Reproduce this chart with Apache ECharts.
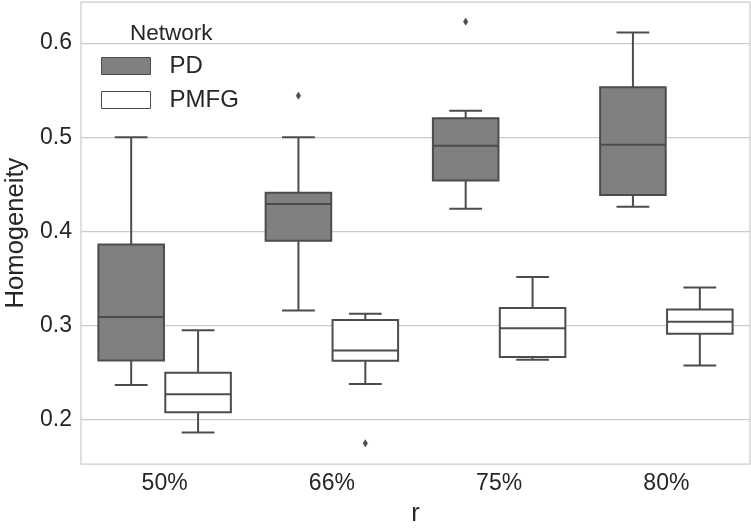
<!DOCTYPE html>
<html>
<head>
<meta charset="utf-8">
<script src="https://cdn.jsdelivr.net/npm/echarts@6/dist/echarts.min.js"></script>
<style>
  html, body { margin: 0; padding: 0; background: #ffffff; }
  #chart { width: 751px; height: 529px; }
</style>
</head>
<body>
<div id="chart"></div>
<script>
// Category labels along the x axis (r)
const categories = ['50%', '66%', '75%', '80%'];

// Box statistics per category: [min whisker, Q1, median, Q3, max whisker]
const pdStats = [
  [0.237, 0.263, 0.309, 0.386, 0.500],
  [0.316, 0.390, 0.429, 0.441, 0.500],
  [0.424, 0.454, 0.491, 0.520, 0.528],
  [0.426, 0.4386, 0.492, 0.553, 0.611]
];
const pmfgStats = [
  [0.1865, 0.208, 0.227, 0.250, 0.295],
  [0.238, 0.2626, 0.2736, 0.306, 0.3125],
  [0.2637, 0.2666, 0.297, 0.3186, 0.3515],
  [0.2576, 0.2913, 0.304, 0.317, 0.3405]
];

// Outliers: [category index, value]
const pdOutliers = [[1, 0.544], [2, 0.6226]];
const pmfgOutliers = [[1, 0.175]];

// Y tick labels
const yTicks = [0.2, 0.3, 0.4, 0.5, 0.6];

const seriesNames = ['PD', 'PMFG'];
const fillColors = ['#808080', '#ffffff'];
const lineColor = '#4c4c4c';
const textColor = '#262626';
const fontFamily = '"Liberation Sans", Arial, sans-serif';

function hueOffset(hue, band) {
  return (hue === 0 ? -0.2 : 0.2) * band;
}

function makeBoxRenderer(hue) {
  return function (params, api) {
    const cat = api.value(0);
    const band = api.size([1, 0])[0];
    const boxW = band * 0.4 * 0.98;
    const capW = boxW / 2;
    const cx = api.coord([cat, api.value(3)])[0] + hueOffset(hue, band);
    const y = (i) => api.coord([cat, api.value(i)])[1];
    const yMin = y(1), yQ1 = y(2), yMed = y(3), yQ3 = y(4), yMax = y(5);
    const stroke = { stroke: lineColor, lineWidth: 2, fill: null };
    return {
      type: 'group',
      children: [
        { type: 'line', shape: { x1: cx, y1: yQ1, x2: cx, y2: yMin }, style: stroke },
        { type: 'line', shape: { x1: cx, y1: yQ3, x2: cx, y2: yMax }, style: stroke },
        { type: 'line', shape: { x1: cx - capW / 2, y1: yMin, x2: cx + capW / 2, y2: yMin }, style: stroke },
        { type: 'line', shape: { x1: cx - capW / 2, y1: yMax, x2: cx + capW / 2, y2: yMax }, style: stroke },
        {
          type: 'rect',
          shape: { x: cx - boxW / 2, y: yQ3, width: boxW, height: yQ1 - yQ3 },
          style: { fill: fillColors[hue], stroke: lineColor, lineWidth: 2 }
        },
        { type: 'line', shape: { x1: cx - boxW / 2, y1: yMed, x2: cx + boxW / 2, y2: yMed }, style: stroke }
      ]
    };
  };
}

function makeOutlierRenderer(hue) {
  return function (params, api) {
    const cat = api.value(0);
    const band = api.size([1, 0])[0];
    const p = api.coord([cat, api.value(1)]);
    const cx = p[0] + hueOffset(hue, band);
    const cy = p[1];
    const hw = 2.3, hh = 3.6;
    return {
      type: 'polygon',
      shape: { points: [[cx, cy - hh], [cx + hw, cy], [cx, cy + hh], [cx - hw, cy]] },
      style: { fill: lineColor, stroke: lineColor, lineWidth: 0.5 }
    };
  };
}

const toBoxData = (stats) => stats.map((s, i) => [i].concat(s));

const chart = echarts.init(document.getElementById('chart'), null, { renderer: 'canvas' });

chart.setOption({
  animation: false,
  backgroundColor: '#ffffff',
  title: {
    text: 'Network',
    left: 130,
    top: 22,
    padding: 0,
    textStyle: { fontFamily, fontSize: 22.5, fontWeight: 'normal', color: textColor }
  },
  legend: {
    orient: 'vertical',
    left: 101,
    top: 54,
    padding: 0,
    itemWidth: 49,
    itemHeight: 17,
    itemGap: 10,
    icon: 'rect',
    textStyle: { fontFamily, fontSize: 24, color: textColor, padding: [0, 0, 0, 14] },
    data: [
      { name: 'PD', itemStyle: { color: fillColors[0], borderColor: lineColor, borderWidth: 1 } },
      { name: 'PMFG', itemStyle: { color: fillColors[1], borderColor: lineColor, borderWidth: 1 } }
    ]
  },
  grid: {
    left: 81,
    right: 1,
    top: 2,
    bottom: 65,
    containLabel: false,
    outerBoundsMode: 'none',
    show: true,
    borderColor: '#cccccc',
    borderWidth: 1.25,
    backgroundColor: '#ffffff'
  },
  xAxis: {
    type: 'category',
    data: categories,
    boundaryGap: true,
    name: 'r',
    nameLocation: 'middle',
    nameGap: 37,
    nameTextStyle: { fontFamily, fontSize: 25.6, color: textColor },
    axisLine: { show: false },
    axisTick: { show: false },
    axisLabel: { fontFamily, fontSize: 23, color: textColor, margin: 8 },
    splitLine: { show: false }
  },
  yAxis: {
    type: 'value',
    min: 0.153,
    max: 0.6435,
    name: 'Homogeneity',
    nameLocation: 'middle',
    nameRotate: 90,
    nameGap: 45,
    nameTextStyle: { fontFamily, fontSize: 25.6, color: textColor },
    axisLine: { show: false },
    axisTick: { show: false, customValues: yTicks },
    axisLabel: {
      customValues: yTicks,
      fontFamily,
      fontSize: 23,
      color: textColor,
      margin: 9,
      formatter: (v) => v.toFixed(1)
    },
    splitLine: { show: true, lineStyle: { color: '#cccccc', width: 1.25 } }
  },
  series: [
    {
      name: seriesNames[0],
      type: 'custom',
      renderItem: makeBoxRenderer(0),
      encode: { x: 0, y: [1, 2, 3, 4, 5] },
      data: toBoxData(pdStats),
      itemStyle: { color: fillColors[0] },
      z: 3
    },
    {
      name: seriesNames[1],
      type: 'custom',
      renderItem: makeBoxRenderer(1),
      encode: { x: 0, y: [1, 2, 3, 4, 5] },
      data: toBoxData(pmfgStats),
      itemStyle: { color: fillColors[1] },
      z: 3
    },
    {
      name: 'PD outliers',
      type: 'custom',
      renderItem: makeOutlierRenderer(0),
      encode: { x: 0, y: 1 },
      data: pdOutliers,
      z: 4
    },
    {
      name: 'PMFG outliers',
      type: 'custom',
      renderItem: makeOutlierRenderer(1),
      encode: { x: 0, y: 1 },
      data: pmfgOutliers,
      z: 4
    }
  ]
});
</script>
</body>
</html>
